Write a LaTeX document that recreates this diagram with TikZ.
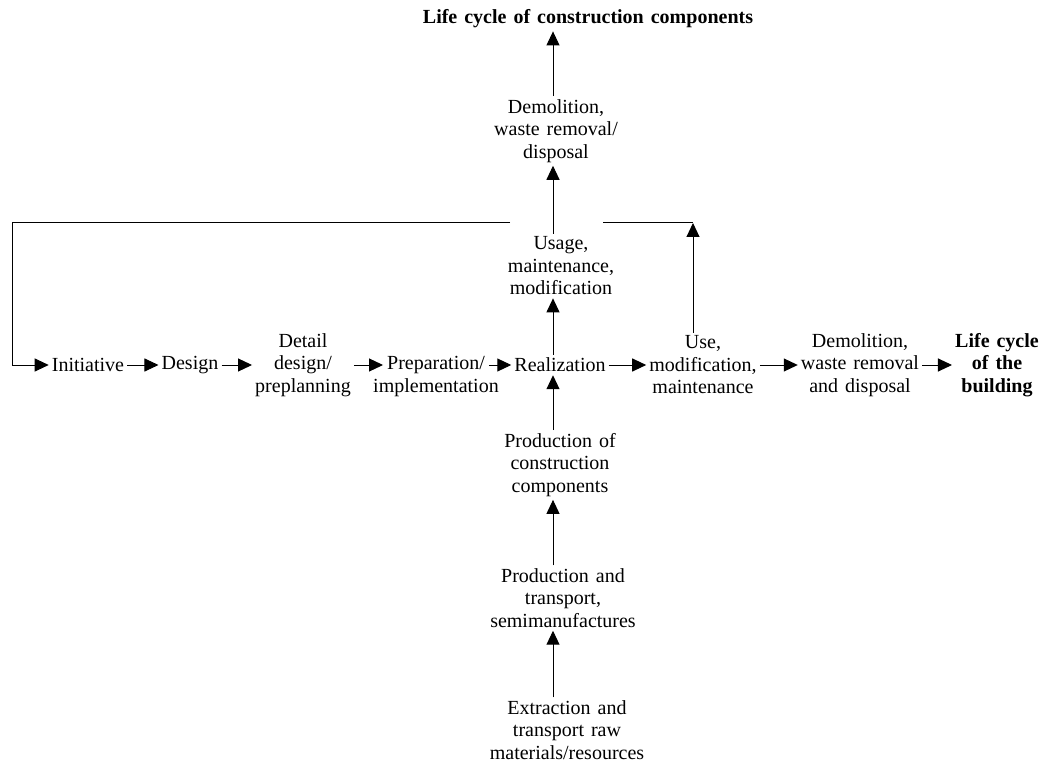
\documentclass[tikz,border=0pt]{standalone}
\usepackage{fontspec}
\setmainfont{Liberation Serif}[WordSpace=1.4]
\usetikzlibrary{arrows.meta,calc}
\begin{document}
\begin{tikzpicture}[x=1pt,y=-1pt,
  lbl/.style={align=center,font=\fontsize{20}{22.5}\selectfont,inner sep=3pt},
  blbl/.style={lbl,font=\fontsize{20}{22.5}\selectfont\bfseries},
  arr/.style={-{Triangle[length=14pt,width=13pt]},line width=1pt},
  ln/.style={line width=1pt}]
\useasboundingbox (0,0) rectangle (1045,762);
% column coordinates
\coordinate (colx) at (553,0);
\coordinate (loopR) at (693,223);
\coordinate (gapR) at (603,223);
\coordinate (gapL) at (510,223);
\coordinate (loopL) at (12,223);
% top column
\node[blbl] (title) at (588,19) {Life cycle of construction components};
\node[lbl] (demo1) at (556,131) {Demolition,\\ waste removal/\\ disposal};
\node[lbl] (usage) at (561,266) {Usage,\\ maintenance,\\ modification};
% row
\node[lbl] (init) at (88,365) {Initiative};
\node[lbl] (design) at (190,365) {Design};
\node[lbl] (detail) at (303,365) {Detail\\ design/\\ preplanning};
\node[lbl] (prep) at (436,376.5) {Preparation/\\ implementation};
\node[lbl] (real) at (560,365) {Realization};
\node[lbl] (use) at (703,365) {Use,\\ modification,\\ maintenance};
\node[lbl] (demo2) at (860,365) {Demolition,\\ waste removal\\ and disposal};
\node[blbl] (lcb) at (997,365) {Life cycle\\ of the\\ building};
% bottom column
\node[lbl] (prodcc) at (560,465) {Production of\\ construction\\ components};
\node[lbl] (prodtr) at (563,598) {Production and\\ transport,\\ semimanufactures};
\node[lbl] (extr) at (567,730) {Extraction and\\ transport raw\\ materials/resources};
% row arrows
\draw[arr] (init.east) -- (design.west);
\draw[arr] (design.east) -- (detail.west);
\draw[arr] (detail.east) -- ([xshift=13pt]detail.east -| prep.west);
\draw[arr] ([xshift=-13pt]real.west -| prep.east) -- (real.west);
\draw[arr] (real.east) -- (real.east -| use.west);
\draw[arr] (use.east) -- (demo2.west);
\draw[arr] (demo2.east) -- (lcb.west);
% vertical arrows
\draw[arr] (extr.north -| colx) -- (prodtr.south -| colx);
\draw[arr] (prodtr.north -| colx) -- (prodcc.south -| colx);
\draw[arr] (prodcc.north -| colx) -- (real.south -| colx);
\draw[arr] (real.north -| colx) -- (usage.south -| colx);
\draw[arr] (usage.north -| colx) -- (demo1.south -| colx);
\draw[arr] (demo1.north -| colx) -- (title.south -| colx);
% feedback loop
\draw[arr] (use.north -| loopR) -- (loopR);
\draw[ln] (loopR) -- (gapR);
\draw[ln] (gapL) -- (loopL);
\draw[arr] (loopL) |- (init.west);
\end{tikzpicture}
\end{document}
